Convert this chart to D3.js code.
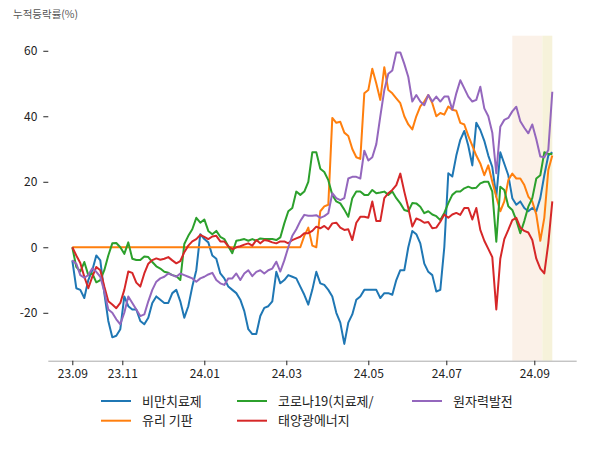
<!DOCTYPE html>
<html><head><meta charset="utf-8">
<script src="https://cdn.jsdelivr.net/npm/d3@7"></script>
<style>body{margin:0;background:#fff}svg{display:block}text{font-family:"Noto Sans CJK KR","Noto Sans",sans-serif}</style>
</head><body>
<svg id="c" width="600" height="450"></svg>
<script>
// trading-day index of each sampled point (0 = first day, 23.09)
const dayIndex = [0,2,4,6,8,10,12,14,16,18,20,22,24,26,28,30,32,34,36,38,40,42,44,46,48,50,52,54,56,58,60,62,64,66,68,70,72,74,76,78,80,82,84,86,88,90,92,94,96,98,100,102,104,106,108,110,112,114,116,118,120,122,124,126,128,130,132,134,136,138,140,142,144,146,148,150,152,154,156,158,160,162,164,166,168,170,172,174,176,178,180,182,184,186,188,190,192,194,196,198,200,202,204,206,208,210,212,214,216,218,220,222,224,226,228,230,232,234,236,238,240];
const seriesNames = ["비만치료제","유리 기판","코로나19(치료제/","태양광에너지","원자력발전"];
const colors = ["#1f77b4","#ff7f0e","#2ca02c","#d62728","#9467bd"];
const obesity = [-4,-12.5,-13,-15.5,-10,-7,-2.5,-4,-14,-22.5,
 -27.5,-27,-25,-15,-18,-19,-19,-22.5,-23.5,-21.5,
 -17,-15,-16,-17,-17,-14,-13,-16.5,-21.5,-18,
 -12,-7,4,2.5,1.5,-2.5,-3.5,-8,-9.5,-12,
 -13,-14,-16,-19.5,-25,-26.5,-26.5,-21,-18.5,-18,
 -16.5,-7.5,-11,-10,-8.5,-9,-9.5,-12,-14.5,-17.5,
 -13,-7.5,-11,-11.5,-13,-15,-20,-23,-29.5,-23,
 -20.5,-16,-15,-13,-13,-13,-13,-15.5,-14,-14,
 -14.5,-10,-7,-7,0,5,4,1.2,-5,-7.5,
 -8.5,-13.5,-13,0,22.6,21.6,28,32.8,35.5,31,
 25,38,35.8,32.5,28,24.5,15.5,29,25.5,22,
 15,13,14,12,11,12,11,15,22,28,
 29];
const glass = [0,0,0,0,0,0,0,0,0,0,
 0,0,0,0,0,0,0,0,0,0,
 0,0,0,0,0,0,0,0,0,0,
 0,0,0,0,0,0,0,0,0,0,
 0,0,0,0,0,0,0,0,0,0,
 0,0,0,0,0,0,0,0,3.5,6,
 0.5,0,11,12.5,13,39.5,38,38.3,35,34,
 30,27.5,27,47,48,54.5,50,45,55,48,
 47,45.5,44,40,37.5,36,40,43,44.5,46.5,
 44,40,41,40.5,43,42,41.7,38,37.5,34,
 31,28,25.6,22,25,20,15.4,11,14,20.5,
 22.5,21,21,19,15.5,14,10,2,9,23.6,
 28];
const covid = [0,-6,-7.4,-4.5,-8.5,-8,-10.7,-10,-7,-2.5,
 1.2,1.3,0,-2,1.5,-3.5,-3.9,-3.9,-2.8,-3,
 -4.5,-5.8,-6.5,-7.5,-7.8,-8.5,-8.8,-10,1,3.5,
 5.5,9,7.5,8.5,5,4,5,3.2,2.5,0.3,
 -1.8,2,2.2,2.5,2,2.5,2,2.7,2.5,2.5,
 2.5,2.2,3,7.3,11,12,17,16,17,20,
 29,29,24,23,20.5,16,14,13.4,11.5,9.3,
 15,17,17,16,16,17.5,16.5,16.7,17,16,
 17,15,13.4,11.4,11,13.5,13.4,12.4,10.4,11,
 10,9.5,8.3,10.5,13.5,16,17,17,18,18.5,
 18,18.2,19.5,20,20,17,1.7,18.5,17.5,12.5,
 11.4,8.3,4.3,8,12.4,15,21,22,29,28.5,
 28.5];
const solar = [0,-2.5,-4.8,-9,-12.5,-9,-6,-7,-12,-16.5,
 -17.5,-18.6,-17,-13,-7.4,-7.8,-10.8,-12,-8,-5,
 -3.9,-3.4,-3.8,-3.5,-3,-4,-4.9,-4.2,-1.5,0.5,
 1.8,2.5,3.8,3.2,2.5,3.3,3.5,1.8,1.8,0.3,
 -0.6,0,0.3,0.8,1.2,0.5,2.2,1.2,2.2,2,
 1.5,1.2,1.8,1.8,1.2,2.2,2.7,3.2,4.3,4.3,
 5,6.3,5.8,6.5,5.5,7.3,7.5,6,5.3,5.5,
 2.2,7.5,9.3,9.3,9,14,8,8,15,16.5,
 17.5,19,22.5,17,12,6.3,8.8,8.3,7.5,7.7,
 5.8,6,7.8,10,9,10,10.5,9.9,12,12,
 8.5,12,5.3,2,-0.5,-3,-19,-3.5,2.5,5.3,
 8.3,9,6,5,4.5,2.2,-3.5,-6.5,-8,1.2,
 14];
const nuclear = [-4,-5,-8.5,-9.3,-8.5,-6.4,-7.5,-9,-13.5,-19,
 -20,-22,-23.5,-20,-15,-17,-19,-21,-20.5,-16.5,
 -13,-10.5,-9.5,-9,-8,-8.5,-9,-8,-8.5,-9,
 -9.5,-10.5,-9.5,-9,-8.3,-7.8,-10,-11,-11.5,-9.5,
 -9.5,-8,-10,-8,-7,-8.8,-7.5,-7,-8,-7,
 -6.5,-4.4,-7.4,-4,0,3.5,5.5,8,9.9,9.6,
 9.6,9.8,9,9.5,10.4,16.5,15,14.4,15,21,
 21.5,21.5,21,29.5,26.5,27.5,31.5,40,48,53,
 54,59.5,59.5,56,52,44.5,46.5,44.5,43.4,46.5,
 44.5,46,44.5,46,46,42,47,51,48.5,46,
 44.5,45,49,42.4,40,35,22.6,36.8,38.9,39.5,
 41.5,42.9,38.5,36.5,34.8,37.5,33,27.7,27.5,29.7,
 47.5];
const seriesValues = [obesity, glass, covid, solar, nuclear];
const yTicks = [-20,0,20,40,60];
const xTickIndex = [0,25,66,107,148,187,231];
const xTickLabels = ["23.09","23.11","24.01","24.03","24.05","24.07","24.09"];
const spans = [[220,235,"#fbf1e8"],[235,240,"#f6f2da"]];
const yLabel = "누적등락률(%)";

const svg = d3.select("#c");
const x = d3.scaleLinear().domain([-12,252.2]).range([48.3,576.7]);
const y = d3.scaleLinear().domain([-34.63,64.6]).range([360.7,35.7]);

svg.append("g").selectAll("rect").data(spans).join("rect")
  .attr("x",d=>x(d[0])).attr("width",d=>x(d[1])-x(d[0]))
  .attr("y",y(64.6)).attr("height",y(-34.63)-y(64.6)).attr("fill",d=>d[2]);

const line = d3.line().x((d,i)=>x(dayIndex[i])).y(d=>y(d));
svg.append("g").selectAll("path").data(seriesValues).join("path")
  .attr("d",d=>line(d)).attr("fill","none")
  .attr("stroke",(d,i)=>colors[i]).attr("stroke-width",2)
  .attr("stroke-linejoin","round").attr("stroke-linecap","butt");

const ya = svg.append("g").attr("transform","translate(48.3,0)")
  .call(d3.axisLeft(y).tickValues(yTicks).tickSize(5).tickPadding(6).tickFormat(d=>String(d)));
ya.select(".domain").remove();
ya.selectAll("text").attr("font-size",12).attr("fill","#222");
ya.selectAll("line").attr("stroke","#222");

const xa = svg.append("g").attr("transform","translate(0,360.7)")
  .call(d3.axisBottom(x).tickValues(xTickIndex).tickSize(4.5).tickPadding(4).tickFormat((d,i)=>xTickLabels[i]));
xa.select(".domain").attr("stroke","#aaa").attr("d","M48.3,0.5H576.7");
xa.selectAll("text").attr("font-size",12).attr("fill","#222");
xa.selectAll("line").attr("stroke","#222");

svg.append("text").attr("x",13).attr("y",18).attr("font-size",10.5).attr("fill","#555").text(yLabel);

const legPos = [[101,401],[101,420.7],[237,401],[237,420.7],[412,401]];
const lg = svg.append("g").selectAll("g").data(seriesNames).join("g")
  .attr("transform",(d,i)=>`translate(${legPos[i][0]},${legPos[i][1]})`);
lg.append("line").attr("x1",0).attr("x2",30).attr("y1",0).attr("y2",0)
  .attr("stroke",(d,i)=>colors[i]).attr("stroke-width",2);
lg.append("text").attr("x",41).attr("y",4.5).attr("font-size",13).attr("fill","#222").text(d=>d);
</script>
</body></html>
